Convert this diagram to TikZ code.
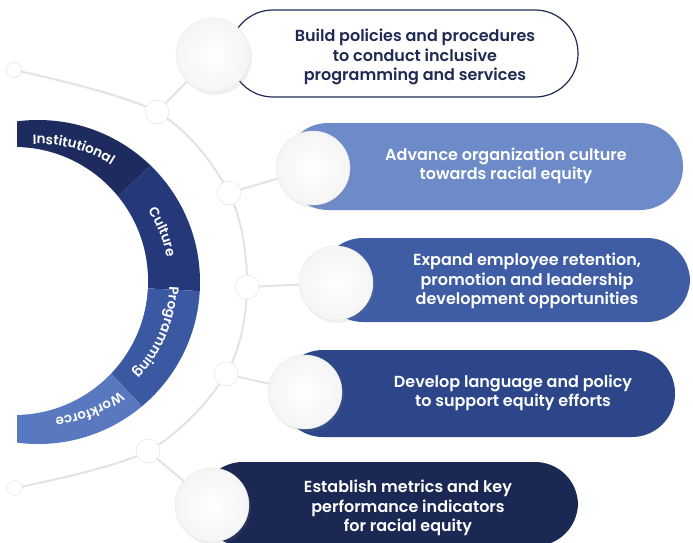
\documentclass[tikz,border=0pt]{standalone}
\usepackage{fontspec}
\IfFontExistsTF{Poppins SemiBold}{\setmainfont{Poppins}[BoldFont={* SemiBold}]}{\setmainfont{Poppins}}
\usetikzlibrary{decorations.text,shadows}
\definecolor{navy}{HTML}{1F2B52}
\definecolor{boxB}{HTML}{6D8AC9}
\definecolor{boxC}{HTML}{3F5DA5}
\definecolor{boxD}{HTML}{2C4689}
\definecolor{boxE}{HTML}{1C2854}
\definecolor{ringA}{HTML}{1D2B5E}
\definecolor{ringB}{HTML}{25397A}
\definecolor{ringC}{HTML}{3B58A3}
\definecolor{ringD}{HTML}{5878C0}
\newcommand{\goalfont}{\fontsize{16}{19.5}\selectfont\bfseries}
\newcommand{\ringfont}{\fontsize{13.5}{14}\selectfont\bfseries}
\tikzset{
pill/.style={rectangle,rounded corners=43pt,minimum height=87pt,inner sep=0pt},
ball/.style={circle,minimum size=74pt,inner sep=0pt,draw=black!9,inner color=white,outer color=black!4,
  drop shadow={shadow xshift=2pt,shadow yshift=-3pt,opacity=.12}},
knot/.style={circle,minimum size=24pt,inner sep=0pt,draw=black!12,fill=white},
tip/.style={circle,minimum size=15pt,inner sep=0pt,draw=black!12,fill=white},
wire/.style={draw=black!11,line width=2pt},
goaltext/.style={align=center,font=\goalfont}
}
% #1 text colour, #2 name, #3 pill options, #4 pill centre, #5 circle centre, #6 text centre, #7 text
\newcommand{\goal}[7][white]{
\node[pill,#3] (p#2) at #4 {};
\node[ball] (c#2) at #5 {};
\node[goaltext,text=#1] (t#2) at #6 {#7};
}
\newcommand{\ringlabel}[4]{
\path[decorate,decoration={text along path,text={|\ringfont|#4},text color=white,text align=center}]
 (38,282) ++(#1:#3) arc[start angle=#1,end angle=#2,radius=#3];
}

\begin{document}
\begin{tikzpicture}[x=1pt,y=-1pt]
\useasboundingbox (0,0) rectangle (693,543);
% ring
\begin{scope}
\clip (17,0) rectangle (300,543);
\clip (38,282) circle[radius=162];
\fill[ringA] (26,282) -- +(-180:300) arc[start angle=-180,end angle=-43,radius=300] -- cycle;
\fill[ringB] (26,282) -- +(-43:300) arc[start angle=-43,end angle=3,radius=300] -- cycle;
\fill[ringC] (26,282) -- +(3:300) arc[start angle=3,end angle=47,radius=300] -- cycle;
\fill[ringD] (26,282) -- +(47:300) arc[start angle=47,end angle=180,radius=300] -- cycle;
\end{scope}
\fill[white] (14,281) circle[radius=134];
\ringlabel{-125}{-25}{138}{Institutional}
\ringlabel{-72}{28}{131}{Culture}
\ringlabel{-27}{73}{131.5}{Programming}
\ringlabel{18}{118}{137}{Workforce}
% arc
\coordinate (kT) at (14,70);
\coordinate (ka) at (157,112);
\coordinate (kb) at (229,193);
\coordinate (kc) at (247,287);
\coordinate (kd) at (226,374);
\coordinate (ke) at (148,451);
\coordinate (kB) at (15,488);
\draw[wire] plot[smooth,tension=.55] coordinates {(kT) (ka) (kb) (kc) (kd) (ke) (kB)};
\node[tip] (T) at (kT) {};
\node[tip] (B) at (kB) {};
\node[knot] (a) at (ka) {};
\node[knot] (b) at (kb) {};
\node[knot] (c) at (kc) {};
\node[knot] (d) at (kd) {};
\node[knot] (e) at (ke) {};
% goals
\goal[navy]{1}{draw=navy,line width=1.2pt,fill=white,minimum width=348pt}{(404,53.5)}{(213,55)}{(415,57)}{Build policies and procedures\\to conduct inclusive\\programming and services}
\goal{2}{fill=boxB,minimum width=398pt}{(484,166.5)}{(313,168)}{(506,166)}{Advance organization culture\\towards racial equity}
\goal{3}{fill=boxC,minimum width=370pt,minimum height=84pt}{(505,280)}{(336,283)}{(527,281)}{Expand employee retention,\\promotion and leadership\\development opportunities}
\goal{4}{fill=boxD,minimum width=395pt}{(477.5,393.5)}{(305,392)}{(513,393)}{Develop language and policy\\to support equity efforts}
\goal{5}{fill=boxE,minimum width=378pt,minimum height=84pt}{(389,504)}{(212,505)}{(408,508)}{Establish metrics and key\\performance indicators\\for racial equity}
\draw[wire] (a) -- (c1);
\draw[wire] (b) -- (c2);
\draw[wire] (c) -- (c3);
\draw[wire] (d) -- (c4);
\draw[wire] (e) -- (c5);
\end{tikzpicture}
\end{document}
